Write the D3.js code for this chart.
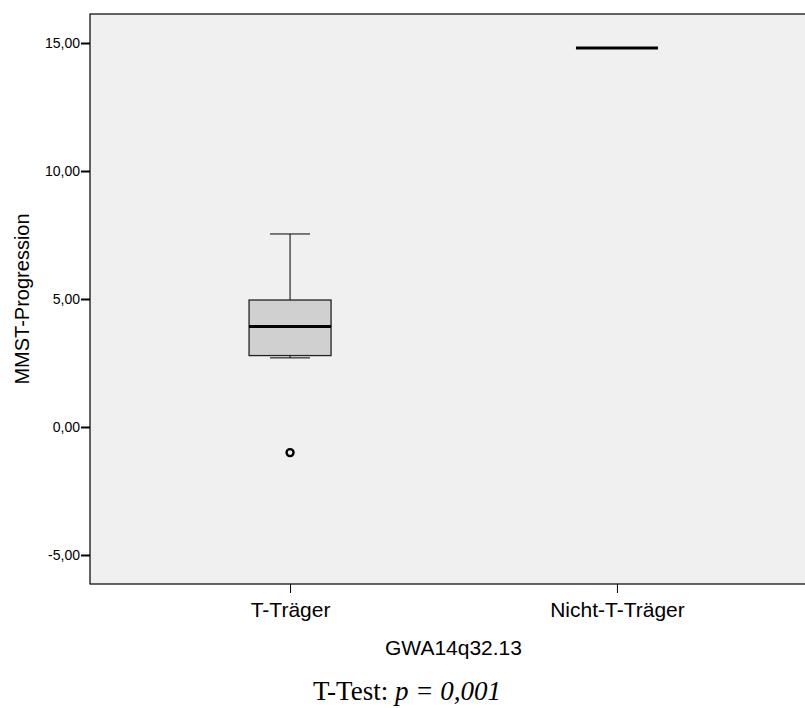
<!DOCTYPE html>
<html lang="de">
<head>
<meta charset="UTF-8">
<title>MMST-Progression</title>
<style>
  * { margin: 0; padding: 0; }
  body { background: #fff; }
  svg { display: block; }
  .tick text { font-family: "Liberation Sans", Arial, sans-serif; }
</style>
<script src="https://cdn.jsdelivr.net/npm/d3@7"></script>
</head>
<body>
<div id="chart"></div>
<script>
// data
var groups = ['T-Träger', 'Nicht-T-Träger'];
var q1 = [2.79, 14.8];
var median = [3.93, 14.8];
var q3 = [4.96, 14.8];
var whiskerLow = [2.70, 14.8];
var whiskerHigh = [7.54, 14.8];
var outliers = [[-1.0], []];
var yTicks = [-5, 0, 5, 10, 15];

var w = 805, h = 708,
    plotL = 90, plotT = 14, plotB = 584, plotR = 817;

var svg = d3.select('#chart').append('svg')
    .attr('width', w)
    .attr('height', h);

var yScale = d3.scaleLinear()
    .domain([-6.133, 16.133])
    .range([plotB, plotT]);

var xScale = d3.scalePoint()
    .domain(groups)
    .range([plotL, plotR])
    .padding(0.612);

// SPSS style: comma decimal, plain hyphen for minus
var fmt = function (d) { return d.toFixed(2).replace('.', ','); };

// plot area
svg.append('rect')
    .attr('x', plotL).attr('y', plotT)
    .attr('width', plotR - plotL).attr('height', plotB - plotT)
    .attr('fill', '#f0f0f0')
    .attr('stroke', '#000')
    .attr('stroke-width', 1.2);

// axes
var yAxis = d3.axisLeft(yScale).tickValues(yTicks).tickFormat(fmt).tickSize(9).tickSizeOuter(0);
var gy = svg.append('g')
    .attr('transform', 'translate(' + plotL + ',0)')
    .call(yAxis);
gy.select('.domain').remove();
gy.selectAll('.tick line').attr('stroke-width', 2);
gy.selectAll('.tick text').style('font-size', '14px').attr('x', -10).attr('fill', '#000');

var xAxis = d3.axisBottom(xScale).tickSize(9).tickSizeOuter(0);
var gx = svg.append('g')
    .attr('transform', 'translate(0,' + plotB + ')')
    .call(xAxis);
gx.select('.domain').remove();
gx.selectAll('.tick text').style('font-size', '21px').attr('y', 18).attr('fill', '#000');

// boxes
var bw = 82, cap = 40;
var data = groups.map(function (g, i) {
    return { g: g, q1: q1[i], med: median[i], q3: q3[i], lo: whiskerLow[i], hi: whiskerHigh[i], out: outliers[i] };
});

var box = svg.selectAll('.box')
    .data(data)
    .enter()
    .append('g')
    .attr('class', 'box');

box.filter(function (d) { return d.q3 > d.q1; }).each(function (d) {
    var g = d3.select(this), cx = xScale(d.g);
    g.append('line')
        .attr('x1', cx).attr('x2', cx)
        .attr('y1', yScale(d.hi)).attr('y2', yScale(d.q3))
        .attr('stroke', '#000');
    g.append('line')
        .attr('x1', cx).attr('x2', cx)
        .attr('y1', yScale(d.lo)).attr('y2', yScale(d.q1))
        .attr('stroke', '#000');
    g.append('line')
        .attr('x1', cx - cap / 2).attr('x2', cx + cap / 2)
        .attr('y1', yScale(d.hi)).attr('y2', yScale(d.hi))
        .attr('stroke', '#000');
    g.append('line')
        .attr('x1', cx - cap / 2).attr('x2', cx + cap / 2)
        .attr('y1', yScale(d.lo)).attr('y2', yScale(d.lo))
        .attr('stroke', '#000');
    g.append('rect')
        .attr('x', cx - bw / 2).attr('y', yScale(d.q3))
        .attr('width', bw).attr('height', yScale(d.q1) - yScale(d.q3))
        .attr('fill', '#d0d0d0')
        .attr('stroke', '#222')
        .attr('stroke-width', 1.3);
});

// medians
box.append('line')
    .attr('x1', function (d) { return xScale(d.g) - bw / 2; })
    .attr('x2', function (d) { return xScale(d.g) + bw / 2; })
    .attr('y1', function (d) { return yScale(d.med); })
    .attr('y2', function (d) { return yScale(d.med); })
    .attr('stroke', '#000')
    .attr('stroke-width', 3);

// outliers
box.each(function (d) {
    d3.select(this).selectAll('circle')
        .data(d.out)
        .enter()
        .append('circle')
        .attr('cx', xScale(d.g))
        .attr('cy', function (v) { return yScale(v); })
        .attr('r', 3.5)
        .attr('fill', 'none')
        .attr('stroke', '#000')
        .attr('stroke-width', 2.4);
});

// titles
svg.append('text')
    .attr('transform', 'translate(29,' + ((plotT + plotB) / 2) + ') rotate(-90)')
    .attr('text-anchor', 'middle')
    .style('font-family', '"Liberation Sans", Arial, sans-serif')
    .style('font-size', '20px')
    .text('MMST-Progression');

svg.append('text')
    .attr('x', (plotL + plotR) / 2)
    .attr('y', 655)
    .attr('text-anchor', 'middle')
    .style('font-family', '"Liberation Sans", Arial, sans-serif')
    .style('font-size', '21px')
    .text('GWA14q32.13');

var note = svg.append('text')
    .attr('x', 407)
    .attr('y', 700)
    .attr('text-anchor', 'middle')
    .style('font-family', '"Liberation Serif", "Times New Roman", serif')
    .style('font-size', '27px');
note.append('tspan').text('T-Test: ');
note.append('tspan').style('font-style', 'italic').text('p = 0,001');
</script>
</body>
</html>
